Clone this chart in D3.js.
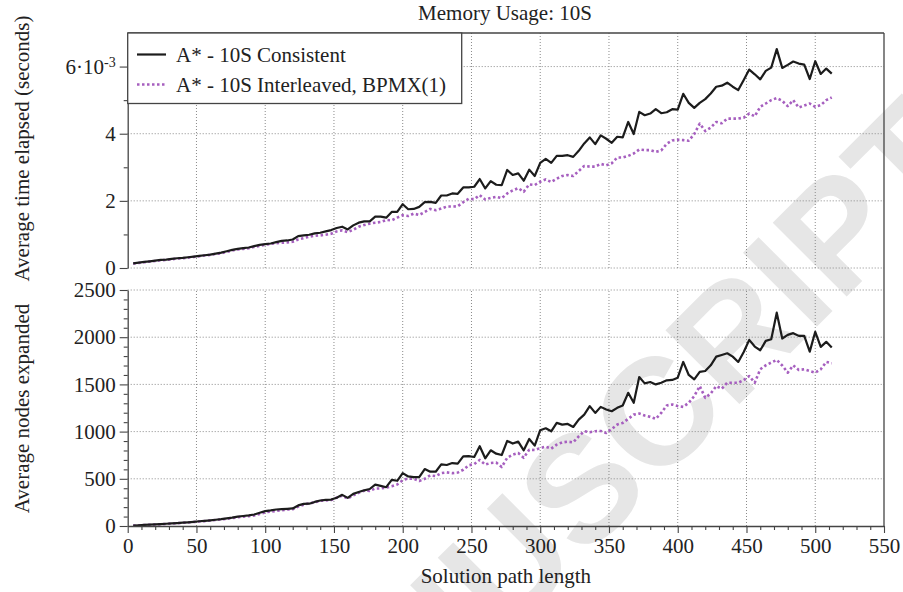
<!DOCTYPE html>
<html>
<head>
<meta charset="utf-8">
<script src="https://cdn.jsdelivr.net/npm/d3@7"></script>
<style>
  body { margin: 0; background: #fff; }
  text { font-family: "Liberation Serif", "Times New Roman", serif; fill: #222; }
</style>
</head>
<body>
<div id="chart"></div>
<script>
// solution path lengths (x)
var pathLen = [
  4, 8, 12, 16, 20, 24, 28, 32, 36, 40, 44, 48, 52, 56, 60, 64,
  68, 72, 76, 80, 84, 88, 92, 96, 100, 104, 108, 112, 116, 120, 124, 128,
  132, 136, 140, 144, 148, 152, 156, 160, 164, 168, 172, 176, 180, 184, 188, 192,
  196, 200, 204, 208, 212, 216, 220, 224, 228, 232, 236, 240, 244, 248, 252, 256,
  260, 264, 268, 272, 276, 280, 284, 288, 292, 296, 300, 304, 308, 312, 316, 320,
  324, 328, 332, 336, 340, 344, 348, 352, 356, 360, 364, 368, 372, 376, 380, 384,
  388, 392, 396, 400, 404, 408, 412, 416, 420, 424, 428, 432, 436, 440, 444, 448,
  452, 456, 460, 464, 468, 472, 476, 480, 484, 488, 492, 496, 500, 504, 508, 512
];

// average time elapsed, in units of 10^-3 s
var timeConsistent = [
  0.14, 0.16, 0.18, 0.20, 0.22, 0.24, 0.25, 0.27, 0.29, 0.30, 0.32, 0.34, 0.36, 0.38, 0.40, 0.43,
  0.46, 0.50, 0.54, 0.57, 0.59, 0.61, 0.65, 0.69, 0.71, 0.73, 0.77, 0.81, 0.82, 0.85, 0.95, 0.97,
  0.99, 1.03, 1.05, 1.09, 1.13, 1.19, 1.23, 1.15, 1.27, 1.35, 1.39, 1.39, 1.53, 1.53, 1.50, 1.67,
  1.67, 1.90, 1.75, 1.76, 1.82, 1.96, 1.97, 1.94, 2.16, 2.16, 2.22, 2.21, 2.40, 2.40, 2.42, 2.65,
  2.37, 2.59, 2.48, 2.47, 2.92, 2.77, 2.82, 2.60, 2.93, 2.74, 3.13, 3.25, 3.13, 3.34, 3.34, 3.36,
  3.31, 3.49, 3.71, 3.89, 3.69, 3.95, 3.85, 3.73, 3.91, 3.89, 4.35, 3.99, 4.65, 4.55, 4.60, 4.73,
  4.61, 4.64, 4.73, 4.72, 5.19, 4.92, 4.77, 4.92, 5.03, 5.20, 5.40, 5.43, 5.52, 5.40, 5.30, 5.60,
  5.91, 5.77, 5.62, 5.87, 5.97, 6.52, 5.96, 6.05, 6.15, 6.09, 6.06, 5.63, 6.16, 5.78, 5.94, 5.79
];
var timeInterleaved = [
  0.13, 0.15, 0.17, 0.19, 0.21, 0.23, 0.24, 0.26, 0.28, 0.29, 0.31, 0.33, 0.35, 0.37, 0.39, 0.42,
  0.44, 0.48, 0.52, 0.55, 0.57, 0.59, 0.63, 0.66, 0.69, 0.72, 0.74, 0.75, 0.76, 0.78, 0.85, 0.89,
  0.93, 0.96, 0.97, 0.99, 1.02, 1.09, 1.12, 1.07, 1.14, 1.23, 1.28, 1.32, 1.35, 1.37, 1.43, 1.42,
  1.50, 1.57, 1.55, 1.62, 1.58, 1.67, 1.76, 1.72, 1.77, 1.83, 1.83, 1.84, 1.96, 2.06, 2.05, 2.17,
  2.04, 2.09, 2.12, 2.08, 2.22, 2.31, 2.38, 2.27, 2.49, 2.47, 2.57, 2.64, 2.56, 2.66, 2.74, 2.77,
  2.74, 2.89, 3.04, 3.02, 3.02, 3.10, 3.06, 3.12, 3.29, 3.29, 3.34, 3.41, 3.53, 3.51, 3.51, 3.46,
  3.50, 3.70, 3.80, 3.82, 3.81, 3.79, 3.99, 4.30, 4.08, 4.18, 4.35, 4.31, 4.45, 4.45, 4.45, 4.48,
  4.60, 4.52, 4.80, 4.90, 5.00, 5.06, 4.98, 4.82, 5.00, 4.78, 4.84, 4.90, 4.80, 4.85, 5.00, 5.08
];

// average nodes expanded
var nodesConsistent = [
  5, 8, 11, 14, 17, 20, 24, 27, 31, 35, 39, 44, 50, 55, 60, 66,
  72, 80, 88, 100, 106, 112, 122, 140, 158, 165, 175, 178, 182, 186, 218, 234,
  236, 255, 270, 276, 280, 300, 330, 298, 340, 360, 378, 392, 439, 425, 411, 488,
  479, 560, 525, 518, 518, 603, 575, 575, 653, 646, 667, 660, 738, 740, 731, 845,
  717, 802, 766, 752, 901, 873, 894, 802, 922, 851, 1015, 1035, 1003, 1092, 1074, 1081,
  1049, 1127, 1180, 1270, 1198, 1262, 1234, 1216, 1252, 1277, 1411, 1305, 1578, 1511, 1525, 1500,
  1518, 1543, 1547, 1571, 1738, 1600, 1553, 1632, 1642, 1702, 1794, 1812, 1830, 1794, 1738, 1844,
  1972, 1901, 1862, 1961, 1979, 2260, 1986, 2025, 2043, 2014, 2014, 1847, 2057, 1897, 1951, 1890
];
var nodesInterleaved = [
  4, 7, 10, 13, 16, 19, 22, 26, 30, 34, 38, 42, 47, 52, 57, 63,
  69, 76, 84, 92, 98, 104, 112, 128, 145, 152, 160, 168, 174, 178, 205, 226,
  240, 250, 268, 270, 275, 300, 322, 291, 324, 352, 374, 372, 397, 398, 406, 420,
  440, 485, 503, 500, 476, 500, 536, 528, 560, 568, 560, 566, 596, 643, 655, 700,
  650, 668, 672, 625, 723, 755, 773, 723, 808, 805, 826, 840, 820, 862, 886, 893,
  886, 950, 1004, 993, 1004, 1007, 986, 1028, 1074, 1092, 1135, 1180, 1191, 1170, 1156, 1135,
  1198, 1277, 1287, 1270, 1262, 1305, 1376, 1482, 1358, 1404, 1482, 1454, 1518, 1518, 1518, 1545,
  1589, 1518, 1660, 1702, 1731, 1759, 1700, 1625, 1702, 1653, 1660, 1642, 1625, 1660, 1738, 1724
];

var xTicks = [0, 50, 100, 150, 200, 250, 300, 350, 400, 450, 500, 550];
var timeTicks = [0, 2, 4, 6];
var nodeTicks = [0, 500, 1000, 1500, 2000, 2500];
var seriesNames = ["A* - 10S Consistent", "A* - 10S Interleaved, BPMX(1)"];

var svgW = 903, svgH = 592;
var left = 127.7, right = 884;
var fontSize = "21px";
var black = "#1c1c1c", purple = "#a65fbf", axisCol = "#444";

var svg = d3.select("#chart").append("svg")
  .attr("width", svgW)
  .attr("height", svgH);

var x = d3.scaleLinear().domain([0, 550]).range([left, right]);
var yTime = d3.scaleLinear().domain([0, 7]).range([268, 33]);
var yNodes = d3.scaleLinear().domain([0, 2500]).range([526, 290]);

// faint watermark behind the plot
svg.append("text")
  .attr("transform", "translate(580,486) rotate(-45)")
  .attr("text-anchor", "middle")
  .attr("dy", "0.36em")
  .style("font-family", "'Liberation Sans', Arial, sans-serif")
  .style("font-weight", "bold")
  .style("font-size", "152px")
  .style("fill", "#e6e6e6")
  .text("MANUSCRIPT");

// dotted grid for a panel
function drawGrid(yScale, yTicks) {
  var g = svg.append("g");
  var r = yScale.range();
  g.selectAll(".vg")
    .data(xTicks.filter(d => d > 0 && d < 550))
    .enter().append("line")
    .attr("x1", d => x(d)).attr("x2", d => x(d))
    .attr("y1", r[0]).attr("y2", r[1])
    .attr("stroke", "#8a8a8a").attr("stroke-width", 1)
    .attr("stroke-dasharray", "1,2");
  g.selectAll(".hg")
    .data(yTicks)
    .enter().append("line")
    .attr("x1", left).attr("x2", right)
    .attr("y1", d => yScale(d)).attr("y2", d => yScale(d))
    .attr("stroke", "#8a8a8a").attr("stroke-width", 1)
    .attr("stroke-dasharray", "1,2");
}
drawGrid(yTime, timeTicks);
drawGrid(yNodes, nodeTicks.filter(d => d > 0));

// series lines
function drawLine(yScale, values, color, dash, width) {
  var line = d3.line()
    .x((d, i) => x(pathLen[i]))
    .y(d => yScale(d));
  svg.append("path")
    .datum(values)
    .attr("d", line)
    .attr("fill", "none")
    .attr("stroke", color)
    .attr("stroke-width", width)
    .attr("stroke-dasharray", dash)
    .attr("stroke-linejoin", "round");
}
drawLine(yTime, timeInterleaved, purple, "2.5,2.5", 2.6);
drawLine(yTime, timeConsistent, black, null, 2.2);
drawLine(yNodes, nodesInterleaved, purple, "2.5,2.5", 2.6);
drawLine(yNodes, nodesConsistent, black, null, 2.2);

// frame: top and right edges
svg.append("line").attr("x1", left).attr("x2", right).attr("y1", 33).attr("y2", 33)
  .attr("stroke", axisCol).attr("stroke-width", 1.3);
svg.append("line").attr("x1", right).attr("x2", right).attr("y1", 33).attr("y2", 526)
  .attr("stroke", axisCol).attr("stroke-width", 1.3);

function styleAxis(g) {
  g.select(".domain").attr("stroke", axisCol).attr("stroke-width", 1.3);
  g.selectAll(".tick line").attr("stroke", axisCol).attr("stroke-width", 1.1);
  g.selectAll(".tick text").style("font-size", fontSize).style("font-family", "'Liberation Serif', serif").attr("fill", "#222");
}

// top panel y axis
var gTime = svg.append("g").attr("transform", `translate(${left},0)`)
  .call(d3.axisLeft(yTime).tickValues(timeTicks).tickSize(8).tickSizeOuter(0).tickPadding(4)
    .tickFormat(d => String(d)));
svg.append("g").attr("transform", `translate(${left},0)`)
  .call(d3.axisLeft(yTime).tickValues([1, 3, 5]).tickSize(4).tickSizeOuter(0).tickFormat(""))
  .call(g => g.select(".domain").remove())
  .call(styleAxis);
styleAxis(gTime);
gTime.selectAll(".tick text").filter(d => d === 6).each(function() {
  var t = d3.select(this).text(null);
  t.append("tspan").text("6\u00b710");
  t.append("tspan").attr("dy", "-0.45em").style("font-size", "14px").text("-3");
});

// bottom panel y axis
var gNodes = svg.append("g").attr("transform", `translate(${left},0)`)
  .call(d3.axisLeft(yNodes).tickValues(nodeTicks).tickSize(8).tickSizeOuter(0).tickPadding(4)
    .tickFormat(d => String(d)));
styleAxis(gNodes);
var minorNodes = d3.range(100, 2500, 100).filter(d => d % 500 !== 0);
svg.append("g").attr("transform", `translate(${left},0)`)
  .call(d3.axisLeft(yNodes).tickValues(minorNodes).tickSize(4).tickSizeOuter(0).tickFormat(""))
  .call(g => g.select(".domain").remove())
  .call(styleAxis);

// x axis
var gX = svg.append("g").attr("transform", "translate(0,526)")
  .call(d3.axisBottom(x).tickValues(xTicks).tickSize(7).tickSizeOuter(0).tickPadding(5)
    .tickFormat(d => String(d)));
styleAxis(gX);
var minorX = d3.range(10, 550, 10).filter(d => d % 50 !== 0);
svg.append("g").attr("transform", "translate(0,526)")
  .call(d3.axisBottom(x).tickValues(minorX).tickSize(4).tickSizeOuter(0).tickFormat(""))
  .call(g => g.select(".domain").remove())
  .call(styleAxis);

// legend
var legend = svg.append("g");
legend.append("rect")
  .attr("x", left).attr("y", 33).attr("width", 334).attr("height", 70.5)
  .attr("fill", "#fff").attr("stroke", axisCol).attr("stroke-width", 1.3);
[[black, null, 2.2], [purple, "2.5,2.5", 2.6]].forEach(function(s, i) {
  var yy = 54.5 + i * 30;
  legend.append("line")
    .attr("x1", 137).attr("x2", 166).attr("y1", yy).attr("y2", yy)
    .attr("stroke", s[0]).attr("stroke-width", s[2]).attr("stroke-dasharray", s[1]);
  legend.append("text")
    .attr("x", 176).attr("y", yy + 7)
    .style("font-size", fontSize)
    .text(seriesNames[i]);
});

// titles
svg.append("text")
  .attr("x", 505).attr("y", 20)
  .attr("text-anchor", "middle")
  .style("font-size", fontSize)
  .text("Memory Usage: 10S");

svg.append("text")
  .attr("transform", `translate(${left + (right - left) / 2}, 583)`)
  .attr("text-anchor", "middle")
  .style("font-size", fontSize)
  .text("Solution path length");

svg.append("text")
  .attr("transform", "translate(29,148.5) rotate(-90)")
  .attr("text-anchor", "middle")
  .style("font-size", fontSize)
  .text("Average time elapsed (seconds)");

svg.append("text")
  .attr("transform", "translate(29,408.5) rotate(-90)")
  .attr("text-anchor", "middle")
  .style("font-size", fontSize)
  .text("Average nodes expanded");
</script>
</body>
</html>
